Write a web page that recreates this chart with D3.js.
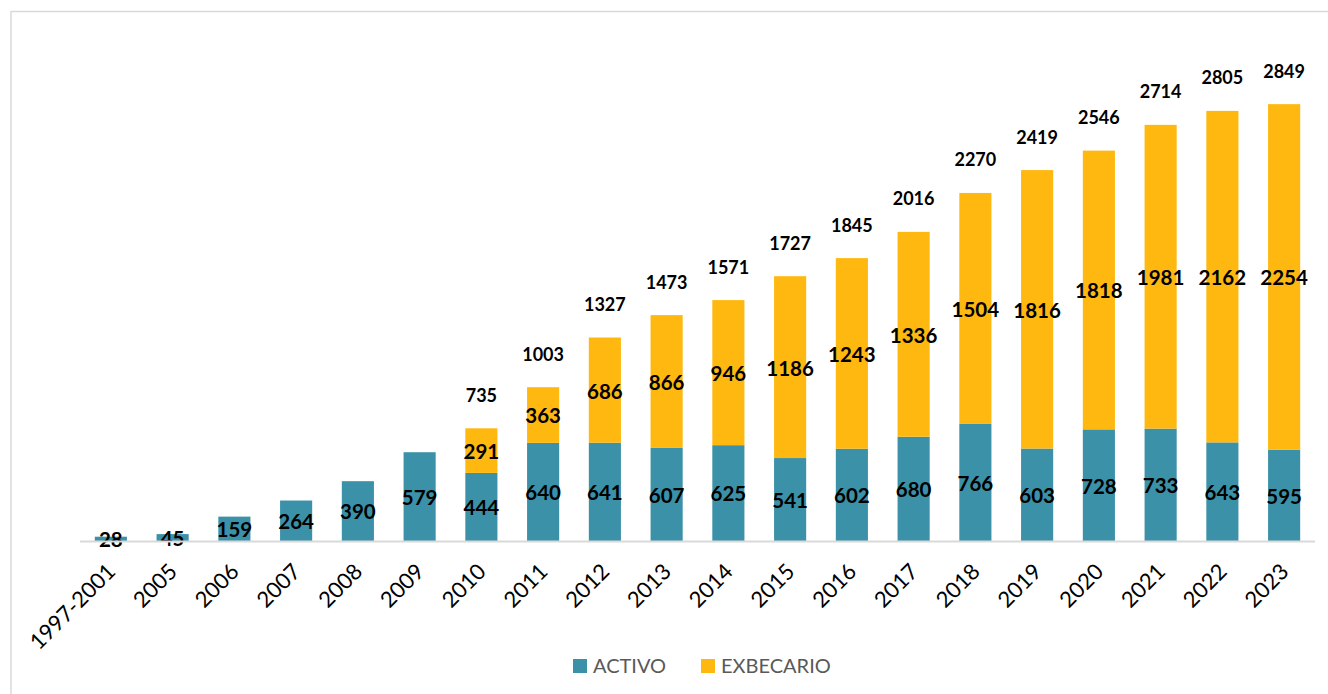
<!DOCTYPE html>
<html>
<head>
<meta charset="utf-8">
<script src="https://cdn.jsdelivr.net/npm/d3@7"></script>
<style>
  html, body { margin: 0; padding: 0; background: #fff; }
  svg { display: block; }
</style>
</head>
<body>
<svg id="chart" width="1328" height="694"></svg>
<script>
const categories = ["1997-2001","2005","2006","2007","2008","2009","2010","2011","2012","2013","2014","2015","2016","2017","2018","2019","2020","2021","2022","2023"];
const activo     = [28,45,159,264,390,579,444,640,641,607,625,541,602,680,766,603,728,733,643,595];
const exbecario  = [0,0,0,0,0,0,291,363,686,866,946,1186,1243,1336,1504,1816,1818,1981,2162,2254];
const totals     = [null,null,null,null,null,null,735,1003,1327,1473,1571,1727,1845,2016,2270,2419,2546,2714,2805,2849];
const seriesNames = ["ACTIVO","EXBECARIO"];
const colors = ["#3A91A8", "#FFB80F"];

const svg = d3.select("#chart");
const FONT = "Lato, 'Open Sans', sans-serif";

// outer border
svg.append("rect").attr("x", 11).attr("y", 11.5).attr("width", 1340).attr("height", 700)
  .attr("fill", "none").attr("stroke", "#d9d9d9").attr("stroke-width", 1.5);

const x = d3.scaleBand().domain(categories).range([80, 1315]).paddingInner(0.48).paddingOuter(0.24);
const y = d3.scaleLinear().domain([0, 3000]).range([541, 81]);

const rows = categories.map((c, i) => ({cat: c, ACTIVO: activo[i], EXBECARIO: exbecario[i], total: totals[i]}));
const stacked = d3.stack().keys(seriesNames)(rows);

const g = svg.append("g");
stacked.forEach((s, si) => {
  g.selectAll(null).data(s.filter(d => d[1] - d[0] > 0)).enter().append("rect")
    .attr("x", d => x(d.data.cat))
    .attr("width", x.bandwidth())
    .attr("y", d => y(d[1]))
    .attr("height", d => y(d[0]) - y(d[1]))
    .attr("fill", colors[si]);
});

// axis line
svg.append("line").attr("x1", 80).attr("x2", 1315).attr("y1", 541.5).attr("y2", 541.5)
  .attr("stroke", "#d9d9d9").attr("stroke-width", 2);

// segment labels
stacked.forEach((s, si) => {
  g.selectAll(null).data(s.filter(d => d[1] - d[0] > 0)).enter().append("text")
    .attr("x", d => x(d.data.cat) + x.bandwidth() / 2)
    .attr("y", d => (y(d[0]) + y(d[1])) / 2 + 1)
    .attr("dy", "0.36em")
    .attr("text-anchor", "middle")
    .attr("font-family", FONT).attr("font-weight", "bold").attr("font-size", 20.5)
    .attr("fill", "#000")
    .text(d => d[1] - d[0]);
});

// total labels
g.selectAll(null).data(rows.filter(d => d.total != null)).enter().append("text")
  .attr("x", d => x(d.cat) + x.bandwidth() / 2)
  .attr("y", d => y(d.ACTIVO + d.EXBECARIO) - 33)
  .attr("dy", "0.36em")
  .attr("text-anchor", "middle")
  .attr("font-family", FONT).attr("font-weight", "bold").attr("font-size", 18)
  .attr("fill", "#000")
  .text(d => d.total);

// x axis labels
const xAxis = d3.axisBottom(x).tickSize(0).tickPadding(0);
const ax = svg.append("g").attr("transform", "translate(0,541)").call(xAxis);
ax.select(".domain").remove();
ax.selectAll("text")
  .attr("font-family", FONT).attr("font-size", 22).attr("fill", "#000")
  .attr("text-anchor", "end")
  .attr("dy", null).attr("y", 0).attr("x", 0)
  .attr("transform", "translate(6,32) rotate(-45)");

// legend
const legend = svg.append("g").attr("transform", "translate(573,659)");
const legX = [0, 128];
seriesNames.forEach((n, i) => {
  const lg = legend.append("g").attr("transform", `translate(${legX[i]},0)`);
  lg.append("rect").attr("width", 14).attr("height", 14).attr("fill", colors[i]);
  lg.append("text").attr("x", 20).attr("y", 7).attr("dy", "0.36em")
    .attr("font-family", FONT).attr("font-size", 20).attr("fill", "#595959").text(n);
});
</script>
</body>
</html>
